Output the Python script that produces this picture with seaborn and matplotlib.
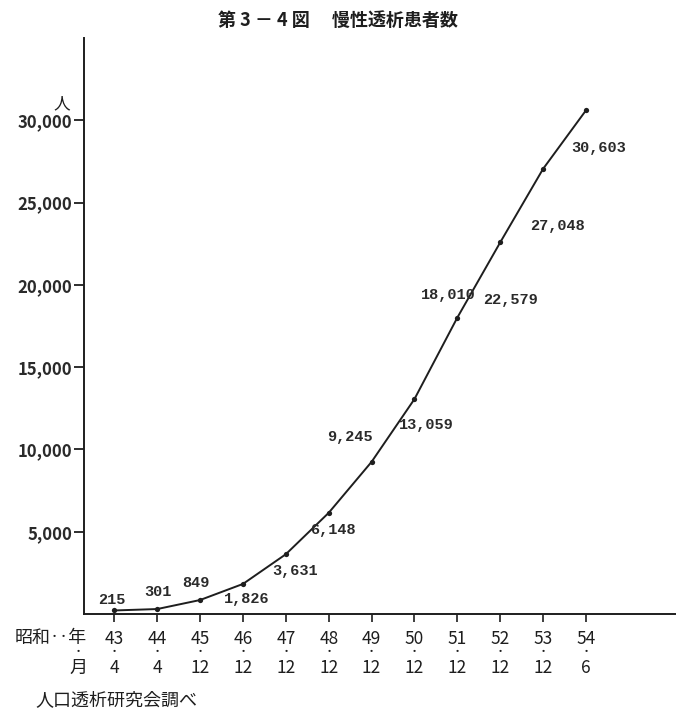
import numpy as np
import pandas as pd
import seaborn as sns
import matplotlib.pyplot as plt

# 慢性透析患者数（昭和43年4月～54年6月）
years = ["43", "44", "45", "46", "47", "48", "49", "50", "51", "52", "53", "54"]
months = ["4", "4", "12", "12", "12", "12", "12", "12", "12", "12", "12", "6"]
patients = [215, 301, 849, 1826, 3631, 6148, 9245, 13059, 18010, 22579, 27048, 30603]
yticks = [5000, 10000, 15000, 20000, 25000, 30000]

# placement of the value labels relative to each point (points)
label_offsets = [(-1.7, 7.6), (0.6, 12.2), (-2.9, 12.2), (2.9, -10.8),
                 (6.5, -12.2), (3.1, -12.2), (-15.5, 18.0), (8.3, -18.7),
                 (-6.7, 16.3), (7.1, -41.5), (10.1, -41.0), (9.4, -27.1)]

ink = "#1e1e1e"
df = pd.DataFrame({"pos": np.arange(len(years)), "patients": patients})

sns.set_style("ticks")
plt.rcParams["font.family"] = ["Noto Sans CJK JP", "DejaVu Sans"]

W, H = 676, 715
fig = plt.figure(figsize=(W / 100, H / 100), dpi=100)
ax = fig.add_axes([84 / W, 1 - 614 / H, 1 - 84 / W, (614 - 38) / H])

sns.lineplot(data=df, x="pos", y="patients", ax=ax, color=ink, lw=1.4,
             marker="o", markersize=3.8, markeredgewidth=0)

ax.set_xlim(-0.707, 13.1)
ax.set_ylim(0, 35000)
ax.set_xlabel("")
ax.set_ylabel("")

ax.set_yticks(yticks)
ax.set_yticklabels([f"{v:,}" for v in yticks], fontsize=12, fontweight="bold", color="#2a2a2a")
ax.set_xticks(df["pos"])
ax.set_xticklabels(years, fontsize=12.5, color=ink)
ax.tick_params(axis="y", length=7, width=1.3, pad=1.5, color=ink)
ax.tick_params(axis="x", length=6, width=1.2, pad=5.5, color=ink)

sns.despine(ax=ax)
for s in ["left", "bottom"]:
    ax.spines[s].set_linewidth(1.4)
    ax.spines[s].set_color(ink)

# dots and months under the years
xt = ax.get_xaxis_transform()
for i, m in enumerate(months):
    ax.text(i, -0.066, "・", transform=xt, ha="center", va="center", fontsize=8, color=ink)
    ax.text(i, -0.094, m, transform=xt, ha="center", va="center", fontsize=12.5, color=ink)

# value labels
for i, (v, (dx, dy)) in enumerate(zip(patients, label_offsets)):
    ax.annotate(f"{v:,}", (i, v), xytext=(dx, dy), textcoords="offset points",
                ha="center", va="center", fontsize=11, color="#2a2a2a", fontweight="bold",
                family=["Liberation Mono", "DejaVu Sans Mono"])

fig.text(338 / W, 1 - 20 / H, "第 3 － 4 図　 慢性透析患者数", ha="center", va="center",
         fontsize=13, fontweight="bold", color=ink)
fig.text(62 / W, 1 - 104 / H, "人", ha="center", va="center", fontsize=12, color=ink)
fig.text(87 / W, 1 - 638 / H, "昭和‥年", ha="right", va="center", fontsize=13, color=ink)
fig.text(78 / W, 1 - 652 / H, "・", ha="center", va="center", fontsize=8, color=ink)
fig.text(78 / W, 1 - 668 / H, "月", ha="center", va="center", fontsize=13, color=ink)
fig.text(35 / W, 1 - 700 / H, "人口透析研究会調べ", ha="left", va="center", fontsize=13, color=ink)

fig.savefig("out.png", dpi=100)
